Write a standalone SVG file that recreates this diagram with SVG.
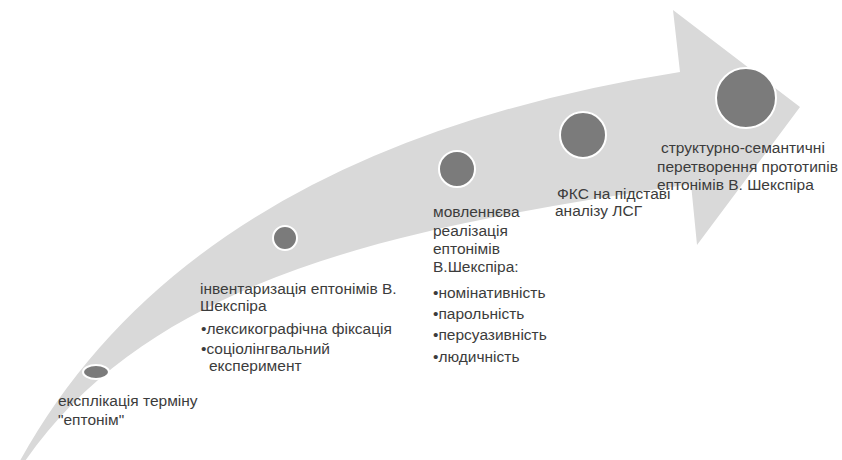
<svg xmlns="http://www.w3.org/2000/svg" width="842" height="460" viewBox="0 0 842 460">
<style>
.band{fill:#d9d9d9}
.dot{fill:#7b7b7b;stroke:#ffffff;stroke-width:2}
text{font-family:"Liberation Sans",Arial,sans-serif;font-size:15.5px;fill:#3c3c3c}
</style>
<rect width="842" height="460" fill="#ffffff"/>
<g id="connectors">
<path class="band" d="M15,470 Q185,150 680,72 L673,10 L800,107 L697,245 L691,184 C420,225 150,270 19,470 Z"/>
</g>
<g id="n1">
<ellipse class="dot" cx="96" cy="372" rx="13" ry="7"/>
<text x="58" y="406">експлікація терміну</text>
<text x="58" y="425">"ептонім"</text>
</g>
<g id="n2">
<circle class="dot" cx="285" cy="238" r="12"/>
<text x="200" y="294">інвентаризація ептонімів В.</text>
<text x="200" y="311">Шекспіра</text>
<text x="201" y="334">•лексикографічна фіксація</text>
<text x="201" y="354">•соціолінгвальний</text>
<text x="209" y="371">експеримент</text>
</g>
<g id="n3">
<circle class="dot" cx="457" cy="169" r="18"/>
<text x="433" y="217">мовленнєва</text>
<text x="433" y="236">реалізація</text>
<text x="433" y="254">ептонімів</text>
<text x="433" y="272">В.Шекспіра:</text>
<text x="433" y="298">•номінативність</text>
<text x="433" y="319">•парольність</text>
<text x="433" y="340">•персуазивність</text>
<text x="433" y="362">•людичність</text>
</g>
<g id="n4">
<circle class="dot" cx="583" cy="135" r="23"/>
<text x="557" y="199">ФКС на підставі</text>
<text x="555" y="216">аналізу ЛСГ</text>
</g>
<g id="n5">
<circle class="dot" cx="746" cy="98" r="30"/>
<text x="661" y="153">структурно-семантичні</text>
<text x="657" y="172">перетворення прототипів</text>
<text x="657" y="190">ептонімів В. Шекспіра</text>
</g>
</svg>
